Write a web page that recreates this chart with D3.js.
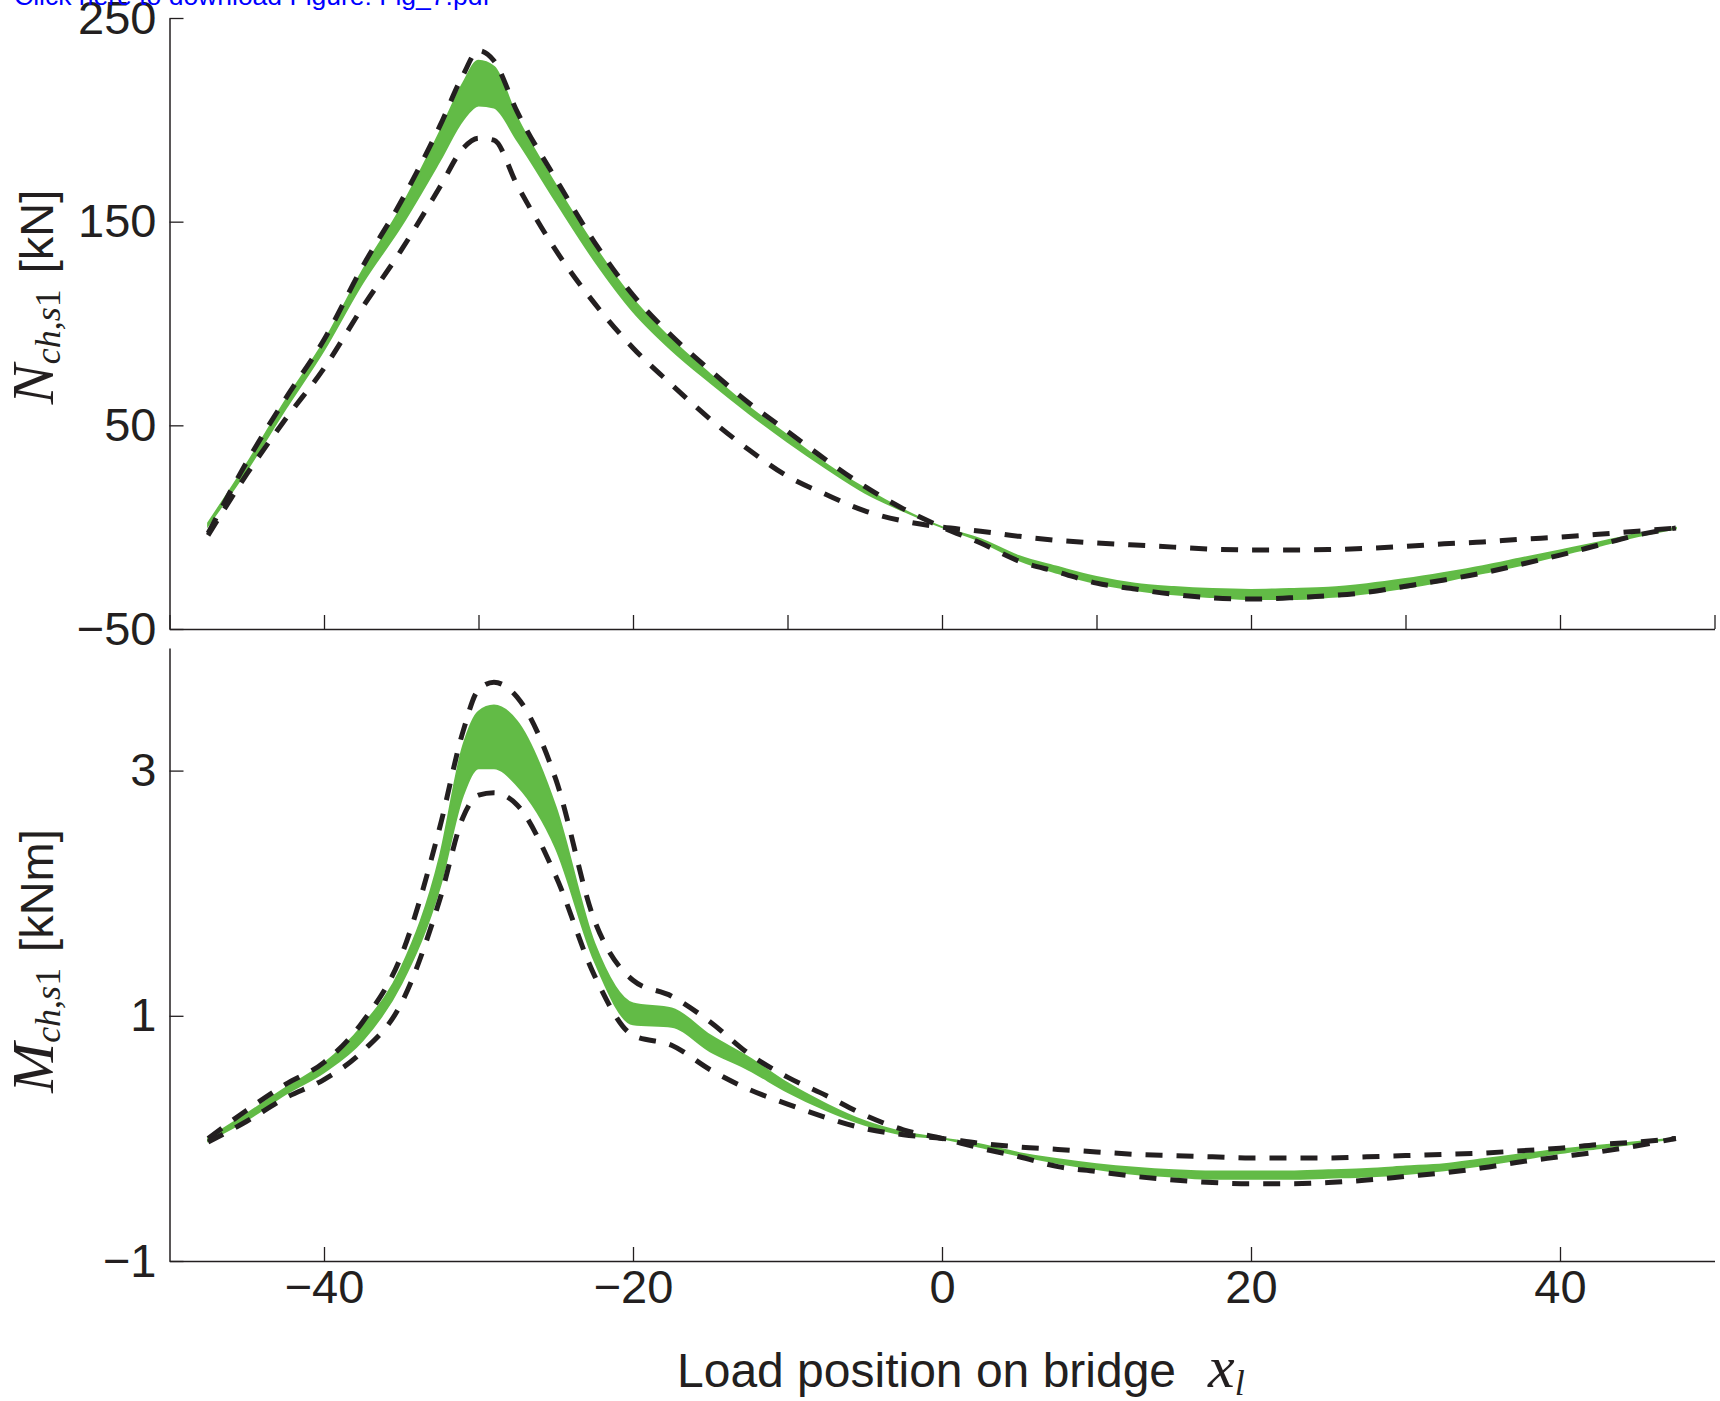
<!DOCTYPE html>
<html>
<head>
<meta charset="utf-8">
<script src="https://cdn.jsdelivr.net/npm/d3@7"></script>
<style>
    body { margin: 0; background: #fff; }
    svg { display: block; }
</style>
</head>
<body>
<div id="chart"></div>
<script>
(function() {
    'use strict';

    // load positions (m) where values were read
    var xPos = [-47.5, -45, -42.5, -40, -37.5, -35, -32.5, -31, -30, -29,
        -27.5, -25, -22.5, -20, -17.5, -15, -12.5, -10, -7.5, -5, -2.5, 0,
        2.5, 5, 7.5, 10, 12.5, 15, 17.5, 20, 22.5, 25, 27.5, 30, 32.5, 35,
        37.5, 40, 42.5, 45, 47.5];

    // N_ch,s1 [kN]
    var nBandHi = [2, 31, 62, 91, 126, 157, 194, 218, 229, 226, 201, 168, 138, 112, 92, 75, 59, 45, 31, 19, 8.5, 0,
        -5.9, -14.3, -19.6, -24.5, -27.8, -29.4, -30.4, -30.8, -30.4, -29.8, -28, -25.5, -22.5, -19.2, -15.3, -11.4, -7.5, -3.3, -0.4];
    var nBandLo = [1, 28, 58, 87, 120, 148, 180, 200, 207, 206, 190, 160, 131, 106, 87, 71, 56, 42, 29, 17, 8, 0,
        -6.9, -16.3, -22.5, -27.5, -30.8, -33, -34.3, -35.3, -35.3, -34.3, -32.4, -29.8, -26.5, -22.5, -18.6, -13.7, -9.2, -4.5, -0.6];
    var nDashA = [-3, 32, 63, 92, 128, 160, 197, 222, 234, 229, 204, 171, 140, 114, 94, 77, 61, 47, 33, 20, 9, 0,
        -7.8, -16.7, -22, -27.5, -30.4, -33, -34.7, -35.3, -34.7, -33.7, -32, -29, -25.9, -22.5, -18.2, -13.7, -8.8, -3.9, -0.4];
    var nDashB = [-4, 26, 53, 78, 108, 136, 167, 186, 191, 190, 168, 136, 110, 88, 70, 53, 38, 25, 16, 8, 3, 0,
        -2, -4.5, -6.5, -7.8, -8.8, -9.8, -10.8, -11.2, -11.2, -11, -10.4, -9.4, -8.2, -7.3, -5.9, -4.9, -3.5, -2, -0.4];

    // M_ch,s1 [kNm]
    var mBandHi = [0, 0.2, 0.41, 0.61, 0.92, 1.39, 2.3, 3.2, 3.48, 3.53, 3.4, 2.7, 1.59, 1.1, 1.06, 0.84, 0.66, 0.45, 0.28, 0.14, 0.05, 0,
        -0.05, -0.12, -0.17, -0.21, -0.24, -0.26, -0.27, -0.27, -0.27, -0.26, -0.25, -0.23, -0.21, -0.17, -0.13, -0.09, -0.06, -0.03, 0];
    var mBandLo = [-0.02, 0.15, 0.36, 0.54, 0.8, 1.26, 2.05, 2.8, 3.02, 3.02, 2.88, 2.37, 1.45, 0.93, 0.91, 0.71, 0.56, 0.38, 0.23, 0.11, 0.03, 0,
        -0.07, -0.14, -0.2, -0.25, -0.29, -0.31, -0.33, -0.33, -0.33, -0.32, -0.31, -0.29, -0.26, -0.22, -0.17, -0.12, -0.08, -0.04, 0];
    var mDashA = [0, 0.23, 0.44, 0.62, 0.95, 1.49, 2.54, 3.32, 3.66, 3.72, 3.6, 2.93, 1.78, 1.29, 1.16, 0.95, 0.69, 0.5, 0.35, 0.19, 0.07, 0,
        -0.08, -0.15, -0.23, -0.27, -0.31, -0.34, -0.36, -0.37, -0.37, -0.36, -0.34, -0.31, -0.28, -0.24, -0.19, -0.15, -0.11, -0.06, 0];
    var mDashB = [-0.03, 0.14, 0.33, 0.48, 0.71, 1.1, 1.95, 2.62, 2.8, 2.82, 2.72, 2.14, 1.33, 0.84, 0.76, 0.56, 0.4, 0.28, 0.17, 0.08, 0.03, 0,
        -0.04, -0.07, -0.09, -0.11, -0.13, -0.14, -0.15, -0.16, -0.16, -0.16, -0.15, -0.14, -0.13, -0.12, -0.1, -0.08, -0.05, -0.03, 0];

    var nTicks = [250, 150, 50, -50];
    var mTicks = [3, 1, -1];
    var xTicksTop = [-50, -40, -30, -20, -10, 0, 10, 20, 30, 40, 50];
    var xTicksBottom = [-40, -20, 0, 20, 40];

    var sans = '"Liberation Sans", Arial, Helvetica, sans-serif';
    var serif = '"Liberation Serif", "Times New Roman", serif';
    var ink = '#231f20';
    var green = '#62bb46';
    var fontSize = 47;

    var svg = d3.select('#chart')
        .append('svg')
        .attr('width', 1720)
        .attr('height', 1401);

    var x = d3.scaleLinear().domain([-50, 50]).range([169.5, 1714.5]);
    var yN = d3.scaleLinear().domain([-50, 250]).range([629, 18]);
    var yM = d3.scaleLinear().domain([-1, 4]).range([1261, 648]);

    /**
     * Draw one panel: green band, two dashed envelopes and the axes
     */
    function drawPanel(y, hi, lo, dashA, dashB, yTicks, xTicks, xLabels) {
        var g = svg.append('g');

        var area = d3.area()
            .x(function(d, i) { return x(xPos[i]); })
            .y0(function(d, i) { return y(lo[i]); })
            .y1(function(d, i) { return y(hi[i]); })
            .curve(d3.curveMonotoneX);

        var line = function(vals) {
            return d3.line()
                .x(function(d, i) { return x(xPos[i]); })
                .y(function(d) { return y(d); })
                .curve(d3.curveMonotoneX)(vals);
        };

        g.append('path')
            .attr('d', area(xPos))
            .attr('fill', green)
            .attr('stroke', green)
            .attr('stroke-width', 2);

        [dashA, dashB].forEach(function(vals) {
            g.append('path')
                .attr('d', line(vals))
                .attr('fill', 'none')
                .attr('stroke', ink)
                .attr('stroke-width', 5)
                .attr('stroke-dasharray', '17,14');
        });

        var yAxis = g.append('g')
            .attr('transform', 'translate(' + x.range()[0] + ',0)')
            .call(d3.axisLeft(y).tickValues(yTicks).tickFormat(d3.format('d'))
                .tickSizeInner(-14).tickSizeOuter(0).tickPadding(13));

        var xAxis = g.append('g')
            .attr('transform', 'translate(0,' + y.range()[0] + ')')
            .call(d3.axisBottom(x).tickValues(xTicks).tickFormat(d3.format('d'))
                .tickSizeInner(-14).tickSizeOuter(0).tickPadding(9));

        if (!xLabels) {
            xAxis.selectAll('text').remove();
        }

        [yAxis, xAxis].forEach(function(ax) {
            ax.attr('font-family', sans).attr('font-size', fontSize);
            ax.select('.domain').attr('stroke', ink).attr('stroke-width', 1.5);
            ax.selectAll('.tick line').attr('stroke', ink).attr('stroke-width', 1.3);
            ax.selectAll('.tick text').attr('fill', ink);
        });
    }

    drawPanel(yN, nBandHi, nBandLo, nDashA, nDashB, nTicks, xTicksTop, false);
    drawPanel(yM, mBandHi, mBandLo, mDashA, mDashB, mTicks, xTicksBottom, true);

    // y labels with math symbol and subscript
    function yLabel(cx, cy, sym, unit) {
        var t = svg.append('text')
            .attr('transform', 'translate(' + cx + ',' + cy + ') rotate(-90)')
            .attr('text-anchor', 'middle')
            .attr('fill', ink);
        t.append('tspan').attr('font-family', serif).attr('font-style', 'italic').attr('font-size', 60).text(sym);
        t.append('tspan').attr('font-family', serif).attr('font-style', 'italic').attr('font-size', 36).attr('dy', 7).text('ch');
        t.append('tspan').attr('font-family', serif).attr('font-size', 36).text(',');
        t.append('tspan').attr('font-family', serif).attr('font-style', 'italic').attr('font-size', 36).text('s');
        t.append('tspan').attr('font-family', serif).attr('font-size', 36).text('1');
        t.append('tspan').attr('font-family', sans).attr('font-size', fontSize).attr('dx', 16).attr('dy', -7).text('[' + unit + ']');
    }

    yLabel(53, 297, 'N', 'kN');
    yLabel(53, 961, 'M', 'kNm');

    // x label
    var xt = svg.append('text')
        .attr('x', 677)
        .attr('y', 1387)
        .attr('fill', ink);
    xt.append('tspan').attr('font-family', sans).attr('font-size', fontSize + 1).text('Load position on bridge');
    xt.append('tspan').attr('x', 1208).attr('font-family', serif).attr('font-style', 'italic').attr('font-size', 60).text('x');
    xt.append('tspan').attr('font-family', serif).attr('font-style', 'italic').attr('font-size', 36).attr('dy', 8).text('l');

    // cut-off link text at the very top
    svg.append('text')
        .attr('x', 14)
        .attr('y', 5)
        .attr('fill', '#0000ff')
        .attr('font-family', sans)
        .attr('font-size', 26.5)
        .text('Click here to download Figure: Fig_7.pdf');
})();
</script>
</body>
</html>
